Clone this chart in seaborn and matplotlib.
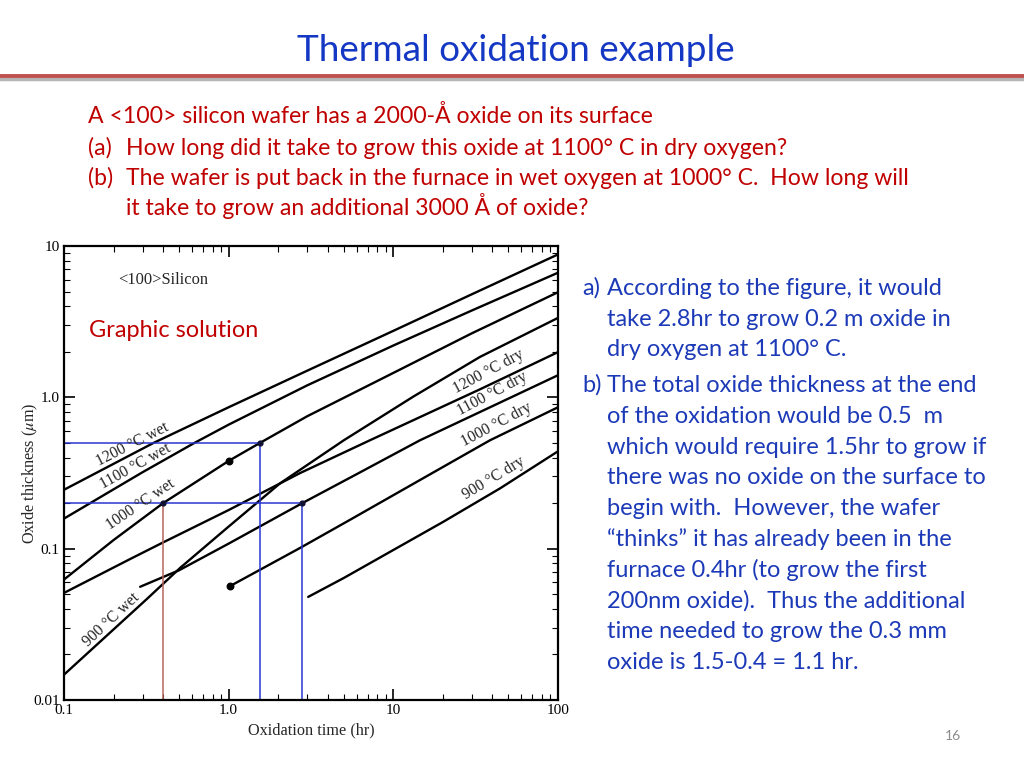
import numpy as np
import pandas as pd
import matplotlib
matplotlib.use('Agg')
import matplotlib.pyplot as plt
import seaborn as sns
from matplotlib.lines import Line2D

t_1200_wet = [0.1, 0.35, 1, 3, 10, 30, 100]
x_1200_wet = [0.245, 0.5, 0.86, 1.5, 2.75, 4.8, 8.8]

t_1100_wet = [0.1, 0.3, 0.62, 1, 3, 10, 30, 100]
x_1100_wet = [0.158, 0.32, 0.5, 0.66, 1.2, 2.2, 3.75, 6.66]

t_1000_wet = [0.1, 0.2, 0.4, 1.0, 1.55, 3, 10, 30, 100]
x_1000_wet = [0.0625, 0.114, 0.2, 0.38, 0.5, 0.75, 1.45, 2.65, 4.95]

t_900_wet = [0.1, 0.32, 0.51, 1.0, 2.05, 5.0, 13.2, 33.6, 100]
x_900_wet = [0.0147, 0.0467, 0.075, 0.14, 0.27, 0.52, 1.01, 1.85, 3.35]

t_1200_dry = [0.1, 0.25, 0.4, 1.0, 2.7, 7.2, 33.6, 100]
x_1200_dry = [0.051, 0.085, 0.11, 0.18, 0.315, 0.52, 1.13, 1.99]

t_1100_dry = [0.29, 0.5, 1.0, 2.8, 6, 14.5, 33.6, 100]
x_1100_dry = [0.056, 0.072, 0.108, 0.2, 0.311, 0.52, 0.80, 1.40]

t_1000_dry = [1.02, 2.71, 5.45, 15, 38.6, 100]
x_1000_dry = [0.0566, 0.101, 0.155, 0.29, 0.52, 0.86]

t_900_dry = [3.04, 5.0, 10, 20, 44.4, 100]
x_900_dry = [0.048, 0.064, 0.098, 0.150, 0.25, 0.44]

# marked points on the curves
big_dot_t = [1.0, 1.02]
big_dot_x = [0.38, 0.0566]
small_dot_t = [1.55, 2.8, 0.4]
small_dot_x = [0.5, 0.2, 0.2]

# graphic solution values
t_a, x_a = 2.8, 0.2            # (a) 1100 C dry
t_total, x_total = 1.55, 0.5   # (b) total thickness in 1000 C wet
t_init = 0.4                   # time equivalent of the first 0.2 um

curves = {
    '1200 wet': (t_1200_wet, x_1200_wet),
    '1100 wet': (t_1100_wet, x_1100_wet),
    '1000 wet': (t_1000_wet, x_1000_wet),
    '900 wet': (t_900_wet, x_900_wet),
    '1200 dry': (t_1200_dry, x_1200_dry),
    '1100 dry': (t_1100_dry, x_1100_dry),
    '1000 dry': (t_1000_dry, x_1000_dry),
    '900 dry': (t_900_dry, x_900_dry),
}
rows = []
for name, (t, x) in curves.items():
    for ti, xi in zip(t, x):
        rows.append((name, ti, xi))
df = pd.DataFrame(rows, columns=['curve', 'time', 'thickness'])

sns.set_theme(style='ticks')
plt.rcParams['font.family'] = ['Liberation Serif', 'DejaVu Serif']
plt.rcParams['mathtext.fontset'] = 'stix'

W, H = 1024, 768
fig = plt.figure(figsize=(W / 100, H / 100), dpi=100)
fig.patch.set_facecolor('white')


def px(x, y):
    return x / W, 1 - y / H


sans = ['Lato', 'DejaVu Sans']
title_blue = '#1438C4'
text_blue = '#1C3AB8'
text_red = '#C00000'
red_size = 16.6
blue_size = 17

# slide title and rule
fig.text(*px(516, 61), 'Thermal oxidation example', ha='center', va='baseline',
         fontsize=26.6, color=title_blue, family=sans)
fig.add_artist(Line2D([0, 1], [1 - 79 / H] * 2, color='#b5b5b5', lw=2.5))
fig.add_artist(Line2D([0, 1], [1 - 76 / H] * 2, color='#C0504D', lw=2.8))

# question text
fig.text(*px(88, 123), 'A <100> silicon wafer has a 2000-Å oxide on its surface',
         fontsize=red_size, color=text_red, family=sans)
fig.text(*px(88, 155), '(a)', fontsize=red_size, color=text_red, family=sans)
fig.text(*px(126, 155), 'How long did it take to grow this oxide at 1100° C in dry oxygen?',
         fontsize=red_size, color=text_red, family=sans)
fig.text(*px(88, 185), '(b)', fontsize=red_size, color=text_red, family=sans)
fig.text(*px(126, 185), 'The wafer is put back in the furnace in wet oxygen at 1000° C.  How long will',
         fontsize=red_size, color=text_red, family=sans)
fig.text(*px(126, 215), 'it take to grow an additional 3000 Å of oxide?',
         fontsize=red_size, color=text_red, family=sans)

# answer text
answer_a = ['According to the figure, it would',
            'take 2.8hr to grow 0.2 m oxide in',
            'dry oxygen at 1100° C.']
answer_b = ['The total oxide thickness at the end',
            'of the oxidation would be 0.5  m',
            'which would require 1.5hr to grow if',
            'there was no oxide on the surface to',
            'begin with.  However, the wafer',
            '“thinks” it has already been in the',
            'furnace 0.4hr (to grow the first',
            '200nm oxide).  Thus the additional',
            'time needed to grow the 0.3 mm',
            'oxide is 1.5-0.4 = 1.1 hr.']
fig.text(*px(582, 295), 'a)', fontsize=blue_size, color=text_blue, family=sans)
for i, line in enumerate(answer_a):
    fig.text(*px(607, 295 + i * 30.5), line, fontsize=blue_size, color=text_blue, family=sans)
fig.text(*px(582, 392), 'b)', fontsize=blue_size, color=text_blue, family=sans)
for i, line in enumerate(answer_b):
    fig.text(*px(607, 392 + i * 30.8), line, fontsize=blue_size, color=text_blue, family=sans)

fig.text(*px(953, 740), '16', ha='center', fontsize=10, color='#8c8c8c', family=sans)

# chart
ax = fig.add_axes([64 / W, 1 - 700 / H, 494 / W, 454 / H])
sns.lineplot(data=df, x='time', y='thickness', units='curve', estimator=None,
             color='black', lw=1.7, sort=False, legend=False, ax=ax)

guide_blue = '#2A35D0'
ax.plot([0.1, t_total], [x_total, x_total], color=guide_blue, lw=1.1)
ax.plot([t_total, t_total], [0.01, x_total], color=guide_blue, lw=1.1)
ax.plot([0.1, t_a], [x_a, x_a], color=guide_blue, lw=1.1)
ax.plot([t_a, t_a], [0.01, x_a], color=guide_blue, lw=1.1)
ax.plot([t_init, t_init], [0.01, x_a], color='#B8645C', lw=1.1)

ax.scatter(big_dot_t, big_dot_x, s=22, color='black', zorder=5)
ax.scatter(small_dot_t, small_dot_x, s=12, color='#111133', zorder=5)

ax.set_xscale('log')
ax.set_yscale('log')
ax.set_xlim(0.1, 100)
ax.set_ylim(0.01, 10)
ax.set_xticks([0.1, 1, 10, 100], ['0.1', '1.0', '10', '100'])
ax.set_yticks([0.01, 0.1, 1, 10], ['0.01', '0.1', '1.0', '10'])
ax.tick_params(which='both', direction='in', top=True, right=True, labelsize=11,
               colors='black')
ax.tick_params(which='major', length=8, width=1.2, pad=3)
ax.tick_params(which='minor', length=4, width=0.8)
for s in ax.spines.values():
    s.set_linewidth(1.6)
    s.set_color('black')
ax.set_xlabel('Oxidation time (hr)', fontsize=11.7)
ax.set_ylabel(r'Oxide thickness ($\mu$m)', fontsize=11.7)
ax.xaxis.set_label_coords(0.5, -0.05)
ax.yaxis.set_label_coords(-0.049, 0.5)

lab = dict(fontsize=11.3, ha='center', va='center', rotation_mode='anchor')
ax.text(0.259, 0.49, '1200 °C wet', rotation=27, **lab)
ax.text(0.27, 0.347, '1100 °C wet', rotation=29, **lab)
ax.text(0.292, 0.197, '1000 °C wet', rotation=34, **lab)
ax.text(0.193, 0.0337, '900 °C wet', rotation=43, **lab)
ax.text(37.7, 1.48, '1200 °C dry', rotation=28, **lab)
ax.text(40.1, 1.05, '1100 °C dry', rotation=28, **lab)
ax.text(42.4, 0.656, '1000 °C dry', rotation=28, **lab)
ax.text(40.5, 0.292, '900 °C dry', rotation=31, **lab)
ax.text(0.213, 5.96, '<100>Silicon', fontsize=11.9, ha='left', va='center')

fig.text(*px(89, 337), 'Graphic solution', fontsize=16.9, color=text_red, family=sans)

fig.savefig('out.png', dpi=100, facecolor='white')
